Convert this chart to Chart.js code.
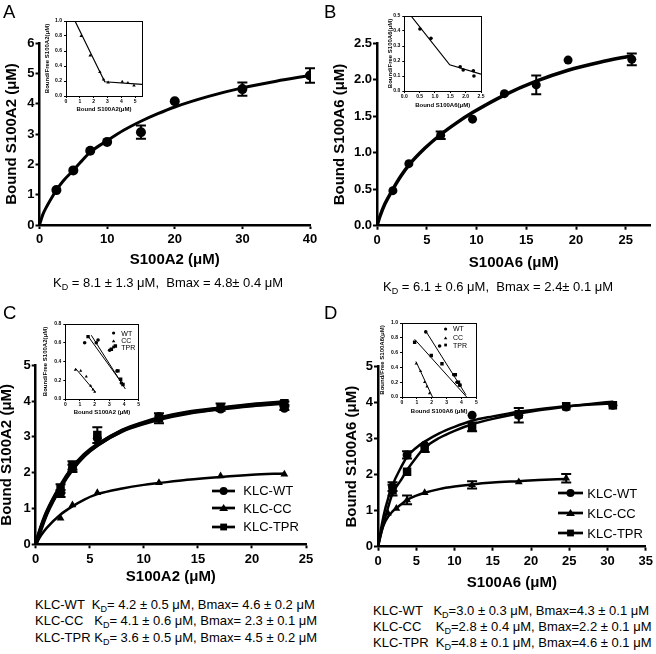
<!DOCTYPE html>
<html>
<head>
<meta charset="utf-8">
<script src="https://cdn.jsdelivr.net/npm/chart.js@4.4.1/dist/chart.umd.min.js"></script>
<style>
  body { margin: 0; background: #fff; }
  #fig { position: relative; width: 656px; height: 654px; overflow: hidden; background: #fff;
         font-family: Arial, "Liberation Sans", Helvetica, sans-serif; color: #000; }
  #fig canvas, #fig .abs { position: absolute; }
  .letter { font-size: 18.5px; line-height: 18.5px; }
  .res { font-size: 13px; white-space: pre; }
  .res sub { font-size: 9px; line-height: 0; vertical-align: -3px; }
</style>
</head>
<body>
<div id="fig">
  <canvas id="mainA"></canvas>
  <canvas id="mainB"></canvas>
  <canvas id="mainC"></canvas>
  <canvas id="mainD"></canvas>
  <canvas id="insA"></canvas>
  <canvas id="insB"></canvas>
  <canvas id="insC"></canvas>
  <canvas id="insD"></canvas>

  <div class="abs letter" style="left:3px;top:2.6px">A</div>
  <div class="abs letter" style="left:324px;top:2.6px">B</div>
  <div class="abs letter" style="left:3px;top:304.3px">C</div>
  <div class="abs letter" style="left:324px;top:304.3px">D</div>

  <div class="abs res" style="left:53px;top:275px;line-height:16px">K<sub>D</sub> = 8.1 ± 1.3 μM,  Bmax = 4.8± 0.4 μM</div>
  <div class="abs res" style="left:383px;top:279px;line-height:16px">K<sub>D</sub> = 6.1 ± 0.6 μM,  Bmax = 2.4± 0.1 μM</div>
  <div class="abs res" style="left:35px;top:596.6px;line-height:16.7px">KLC-WT  K<sub>D</sub>= 4.2 ± 0.5 μM, Bmax= 4.6 ± 0.2 μM
KLC-CC   K<sub>D</sub>= 4.1 ± 0.6 μM, Bmax= 2.3 ± 0.1 μM
KLC-TPR K<sub>D</sub>= 3.6 ± 0.5 μM, Bmax= 4.5 ± 0.2 μM</div>
  <div class="abs res" style="left:373px;top:603px;line-height:16.2px">KLC-WT   K<sub>D</sub>=3.0 ± 0.3 μM, Bmax=4.3 ± 0.1 μM
KLC-CC    K<sub>D</sub>=2.8 ± 0.4 μM, Bmax=2.2 ± 0.1 μM
KLC-TPR  K<sub>D</sub>=4.8 ± 0.1 μM, Bmax=4.6 ± 0.1 μM</div>
</div>

<script>
Chart.defaults.font.family = 'Arial, "Liberation Sans", sans-serif';
Chart.defaults.color = '#000';

// ---------- A: S100A2 ----------
const xA = [2.5, 5, 7.5, 10, 15, 20, 30, 40];
const yA = [1.15, 1.8, 2.45, 2.74, 3.06, 4.08, 4.48, 4.93];
const errA = [0, 0, 0, 0, 0.22, 0, 0.22, 0.24];
const fitXA = [0, 0.5, 1, 2, 2.5, 3.5, 5, 6, 7.5, 10, 12.5, 15, 17.5, 20, 25, 30, 35, 40];
const fitYA = [0, 0.35, 0.58, 0.97, 1.15, 1.45, 1.8, 2.05, 2.4, 2.78, 3.13, 3.42, 3.67, 3.89, 4.24, 4.52, 4.74, 4.93];
const xTicksA = [0, 10, 20, 30, 40];
const yTicksA = [0, 1, 2, 3, 4, 5, 6];
// A inset (Scatchard)
const insXA = [1.1, 1.75, 2.45, 2.72, 3.05, 4.07, 4.48, 4.92];
const insYA = [0.8, 0.54, 0.32, 0.22, 0.18, 0.19, 0.175, 0.14];
const insLineXA = [0.65, 2.8, 5.5];
const insLineYA = [1.0, 0.19, 0.155];
const insXTicksA = [0, 1, 2, 3, 4, 5];
const insYTicksA = [0, 0.2, 0.4, 0.6, 0.8, 1.0];

// ---------- B: S100A6 ----------
const xB = [1.6, 3.2, 6.4, 9.6, 12.8, 16, 19.2, 25.6];
const yB = [0.48, 0.85, 1.24, 1.46, 1.81, 1.93, 2.27, 2.28];
const errB = [0, 0, 0.05, 0, 0, 0.13, 0, 0.08];
const fitXB = [0, 0.3, 0.8, 1.6, 2.4, 3.2, 4.8, 6.4, 8, 9.6, 12.8, 16, 19.2, 22.4, 25.6];
const fitYB = [0, 0.13, 0.3, 0.5, 0.68, 0.83, 1.06, 1.25, 1.41, 1.55, 1.79, 1.98, 2.13, 2.24, 2.33];
const xTicksB = [0, 5, 10, 15, 20, 25];
const yTicksB = [0, 0.5, 1, 1.5, 2, 2.5];
const insXB = [0.51, 0.87, 1.82, 1.92, 2.25, 2.27];
const insYB = [0.413, 0.351, 0.162, 0.14, 0.135, 0.1];
const insLineXB = [0.22, 1.48, 2.5];
const insLineYB = [0.5, 0.175, 0.113];
const insXTicksB = [0, 0.5, 1, 1.5, 2, 2.5];
const insYTicksB = [0, 0.1, 0.2, 0.3, 0.4, 0.5];

// ---------- C: S100A2 with KLC constructs ----------
const xC = [2.3, 3.4, 5.7, 11.4, 17.1, 23];
const wtC = [1.42, 2.12, 2.96, 3.57, 3.78, 3.8];
const ccC = [0.73, 1.1, 1.44, 1.72, 1.91, 1.96];
const tprC = [1.56, 2.2, 3.05, 3.52, 3.83, 3.94];
const errWtC = [0.1, 0.1, 0, 0, 0, 0.05];
const errTprC = [0.12, 0.12, 0.22, 0.14, 0.1, 0.05];
const fitXC = [0, 0.5, 1, 2.3, 3.4, 4.5, 5.7, 8, 10, 11.4, 14, 17.1, 20, 23];
const fitWtC = [0, 0.45, 0.85, 1.6, 2.1, 2.48, 2.77, 3.18, 3.4, 3.52, 3.68, 3.8, 3.9, 3.97];
const fitTprC = [0, 0.48, 0.88, 1.63, 2.13, 2.5, 2.78, 3.17, 3.38, 3.5, 3.66, 3.79, 3.88, 3.95];
const fitCcC = [0, 0.25, 0.45, 0.83, 1.06, 1.25, 1.4, 1.56, 1.66, 1.71, 1.8, 1.88, 1.94, 1.98];
const xTicksC = [0, 5, 10, 15, 20, 25];
const yTicksC = [0, 1, 2, 3, 4, 5];
const insWtXC = [1.32, 2.11, 2.23, 3.02, 3.52, 3.82];
const insWtYC = [0.6, 0.6, 0.63, 0.52, 0.3, 0.17];
const insTprXC = [1.55, 3.14, 3.41, 3.59, 3.77, 3.93];
const insTprYC = [0.665, 0.53, 0.565, 0.3, 0.21, 0.155];
const insCcXC = [0.68, 1.05, 1.43, 1.73, 1.89, 2.0];
const insCcYC = [0.31, 0.3, 0.24, 0.14, 0.1, 0.075];
const insLineWtC = { x: [1.55, 3.93], y: [0.67, 0.153] };
const insLineTprC = { x: [1.77, 4.09], y: [0.68, 0.107] };
const insLineCcC = { x: [0.68, 2.05], y: [0.33, 0.075] };
const insXTicksC = [0, 1, 2, 3, 4, 5];
const insYTicksC = [0, 0.2, 0.4, 0.6, 0.8];

// ---------- D: S100A6 with KLC constructs ----------
const xD = [1.9, 3.8, 6.1, 12.3, 18.4, 24.6, 30.7];
const wtD = [1.67, 2.55, 2.82, 3.65, 3.65, 3.88, 3.93];
const tprD = [1.57, 2.08, 2.73, 3.33, 3.68, 3.9, 3.93];
const errWtD = [0.12, 0.1, 0, 0, 0.2, 0, 0];
const errTprD = [0.15, 0, 0.1, 0.12, 0, 0, 0];
const xCcD = [1.3, 2.4, 3.8, 6.1, 12.3, 18.4, 24.6];
const ccD = [0.93, 1.06, 1.3, 1.5, 1.72, 1.8, 1.9];
const errCcD = [0, 0, 0.12, 0, 0.1, 0, 0.12];
const fitXD = [0, 0.5, 1, 1.9, 3, 3.8, 5, 6.1, 8, 10, 12.3, 15, 18.4, 21, 24.6, 28, 30.7];
const fitWtD = [0, 0.62, 1.1, 1.71, 2.2, 2.5, 2.75, 2.92, 3.15, 3.33, 3.5, 3.62, 3.75, 3.82, 3.9, 3.95, 3.98];
const fitTprD = [0, 0.45, 0.85, 1.48, 1.85, 2.13, 2.48, 2.75, 3.02, 3.22, 3.4, 3.55, 3.7, 3.79, 3.89, 3.97, 4.03];
const fitXCcD = [0, 0.5, 1, 1.9, 3, 3.8, 5, 6.1, 8, 10, 12.3, 15, 18.4, 21, 24.6];
const fitCcD = [0, 0.45, 0.72, 0.98, 1.17, 1.3, 1.42, 1.5, 1.6, 1.67, 1.73, 1.78, 1.82, 1.85, 1.88];
const xTicksD = [0, 5, 10, 15, 20, 25, 30, 35];
const yTicksD = [0, 1, 2, 3, 4, 5];
const insWtXD = [1.6, 2.53, 3.48, 3.7, 3.88];
const insWtYD = [0.88, 0.69, 0.3, 0.2, 0.16];
const insTprXD = [0.85, 1.97, 2.69, 3.59, 3.8, 3.9];
const insTprYD = [0.74, 0.56, 0.45, 0.3, 0.2, 0.16];
const insCcXD = [0.95, 1.25, 1.52, 1.68, 1.85];
const insCcYD = [0.45, 0.35, 0.2, 0.14, 0.05];
const insLineWtD = { x: [1.57, 4.3], y: [0.9, 0.03] };
const insLineTprD = { x: [0.85, 4.35], y: [0.78, 0.0] };
const insLineCcD = { x: [0.94, 2.05], y: [0.48, 0.0] };
const insXTicksD = [0, 1, 2, 3, 4, 5];
const insYTicksD = [0, 0.2, 0.4, 0.6, 0.8, 1.0];

// ---------- helpers ----------
const MAIN = { tick: 13, title: 15, tickLen: 4, tickW: 2, border: 2.5, padX: 3, padY: 1 };
const INSET = { tick: 5, title: 6, tickLen: 2, tickW: 1, border: 1, padX: 1, padY: 2 };

function pts(xs, ys) { return xs.map((x, i) => ({ x, y: ys[i] })); }

function markers(xs, ys, style, r, errs) {
    return { data: pts(xs, ys), pointStyle: style, pointRadius: r, backgroundColor: '#000',
             borderColor: '#000', borderWidth: 0, showLine: false, errors: errs };
}

function curve(xs, ys, w, smooth) {
    return { type: 'line', data: pts(xs, ys), borderColor: '#000', borderWidth: w, pointRadius: 0,
             fill: false, cubicInterpolationMode: smooth ? 'monotone' : 'default', tension: 0 };
}

// vertical error bars with caps, from dataset.errors
const errorBars = {
    id: 'errorBars',
    afterDatasetsDraw(chart) {
        const { ctx, scales: { x, y } } = chart;
        ctx.save();
        ctx.strokeStyle = '#000';
        ctx.lineWidth = 2;
        chart.data.datasets.forEach(ds => {
            if (!ds.errors) return;
            ds.data.forEach((p, i) => {
                const e = ds.errors[i];
                if (!e) return;
                const px = x.getPixelForValue(p.x);
                const top = y.getPixelForValue(p.y + e);
                const bot = y.getPixelForValue(p.y - e);
                ctx.beginPath();
                ctx.moveTo(px, top); ctx.lineTo(px, bot);
                ctx.moveTo(px - 5, top); ctx.lineTo(px + 5, top);
                ctx.moveTo(px - 5, bot); ctx.lineTo(px + 5, bot);
                ctx.stroke();
            });
        });
        ctx.restore();
    }
};

// closed box round the inset plots
const frame = {
    id: 'frame',
    afterDraw(chart) {
        const a = chart.chartArea;
        const ctx = chart.ctx;
        ctx.save();
        ctx.strokeStyle = '#000';
        ctx.lineWidth = 1;
        ctx.strokeRect(Math.round(a.left) + 0.5, Math.round(a.top) + 0.5,
                       Math.round(a.right - a.left), Math.round(a.bottom - a.top));
        ctx.restore();
    }
};

function axis(pos, min, max, ticks, digits, title, size, titlePad, st) {
    const horiz = pos === 'bottom';
    return {
        type: 'linear', position: pos, min, max,
        afterBuildTicks: s => { s.ticks = ticks.map(v => ({ value: v })); },
        afterFit: s => { if (horiz) s.height = size; else s.width = size; },
        grid: { drawOnChartArea: false, drawTicks: true, tickLength: st.tickLen,
                tickWidth: st.tickW, tickColor: '#000' },
        border: { display: true, color: '#000', width: st.border },
        ticks: { color: '#000', autoSkip: false, maxRotation: 0,
                 padding: horiz ? st.padX : st.padY,
                 font: { size: st.tick, weight: 'bold' },
                 callback: v => v.toFixed(digits) },
        title: { display: true, text: title, color: '#000',
                 font: { size: st.title, weight: 'bold' },
                 padding: horiz ? { top: 0, bottom: titlePad } : { top: titlePad, bottom: 0 } }
    };
}

function draw(id, box, xs, ys, datasets, st, extra) {
    const cv = document.getElementById(id);
    cv.width = box.w;
    cv.height = box.h;
    Object.assign(cv.style, { left: box.l + 'px', top: box.t + 'px',
                              width: box.w + 'px', height: box.h + 'px' });
    return new Chart(cv, {
        type: 'scatter',
        data: { datasets },
        options: {
            responsive: false,
            animation: false,
            layout: { padding: { top: box.pt, right: box.pr, left: 0, bottom: 0 } },
            plugins: { legend: { display: false }, tooltip: { enabled: false } },
            scales: {
                x: axis('bottom', xs.min, xs.max, xs.ticks, xs.digits, xs.title, box.xh, box.xtp, st),
                y: axis('left', ys.min, ys.max, ys.ticks, ys.digits, ys.title, box.yw, box.ytp, st)
            }
        },
        plugins: extra
    });
}

// legend rows: line + marker drawn as svg, label as text
function legend(rows, names, shapes, o) {
    const fig = document.getElementById('fig');
    rows.forEach((cy, i) => {
        const r = o.r;
        const w = o.lineW || (2 * r + 2);
        const mx = w / 2;
        let mark = '';
        if (shapes[i] === 'circle') mark = `<circle cx="${mx}" cy="8" r="${r}"/>`;
        if (shapes[i] === 'triangle') mark = `<polygon points="${mx - r * 1.1},${8 + r * 0.75} ${mx + r * 1.1},${8 + r * 0.75} ${mx},${8 - r}"/>`;
        if (shapes[i] === 'rect') mark = `<rect x="${mx - r * 0.85}" y="${8 - r * 0.85}" width="${r * 1.7}" height="${r * 1.7}"/>`;
        const line = o.lineW ? `<line x1="0" y1="8" x2="${w}" y2="8" stroke="#000" stroke-width="${o.stroke}"/>` : '';
        const svg = document.createElementNS('http://www.w3.org/2000/svg', 'svg');
        svg.setAttribute('width', w);
        svg.setAttribute('height', 16);
        svg.setAttribute('class', 'abs');
        svg.style.left = o.x + 'px';
        svg.style.top = (cy - 8) + 'px';
        svg.innerHTML = line + mark;
        fig.appendChild(svg);
        const t = document.createElement('div');
        t.className = 'abs';
        t.textContent = names[i];
        Object.assign(t.style, { left: o.tx + 'px', top: (cy - 0.49 * o.size) + 'px',
                                 fontSize: o.size + 'px', lineHeight: o.size + 'px', whiteSpace: 'nowrap' });
        fig.appendChild(t);
    });
}

// ---------- main panels ----------
draw('mainA', { l: 0, t: 30, w: 328, h: 243, pt: 13, pr: 18, yw: 39.5, xh: 48, ytp: 2.5, xtp: 4 },
    { min: 0, max: 40, ticks: xTicksA, digits: 0, title: 'S100A2 (μM)' },
    { min: 0, max: 6, ticks: yTicksA, digits: 0, title: 'Bound S100A2 (μM)' },
    [curve(fitXA, fitYA, 3, true), markers(xA, yA, 'circle', 5, errA)], MAIN, [errorBars]);

draw('mainB', { l: 328, t: 30, w: 328, h: 246, pt: 13.3, pr: 5.3, yw: 49, xh: 50.3, ytp: 2.5, xtp: 3.7 },
    { min: 0, max: 27.5, ticks: xTicksB, digits: 0, title: 'S100A6 (μM)' },
    { min: 0, max: 2.5, ticks: yTicksB, digits: 1, title: 'Bound S100A6 (μM)' },
    [curve(fitXB, fitYB, 3.5, true), markers(xB, yB, 'circle', 4.5, errB)], MAIN, [errorBars]);

draw('mainC', { l: -3, t: 350, w: 331, h: 240, pt: 15.3, pr: 22, yw: 38.7, xh: 45.7, ytp: 0.5, xtp: 4.3 },
    { min: 0, max: 25, ticks: xTicksC, digits: 0, title: 'S100A2 (μM)' },
    { min: 0, max: 5, ticks: yTicksC, digits: 0, title: 'Bound S100A2 (μM)' },
    [curve(fitXC, fitWtC, 4, true), curve(fitXC, fitTprC, 4, true), curve(fitXC, fitCcC, 2.5, true),
     markers(xC, wtC, 'circle', 4.5, errWtC), markers(xC, ccC, 'triangle', 4.5, null),
     markers(xC, tprC, 'rect', 6, errTprC)], MAIN, [errorBars]);

draw('mainD', { l: 328, t: 350, w: 328, h: 246, pt: 16.7, pr: 8, yw: 50, xh: 49.3, ytp: 15, xtp: 3.7 },
    { min: 0, max: 35, ticks: xTicksD, digits: 0, title: 'S100A6 (μM)' },
    { min: 0, max: 5, ticks: yTicksD, digits: 0, title: 'Bound S100A6 (μM)' },
    [curve(fitXD, fitWtD, 2.5, true), curve(fitXD, fitTprD, 2.5, true), curve(fitXCcD, fitCcD, 2.5, true),
     markers(xD, wtD, 'circle', 4.5, errWtD), markers(xCcD, ccD, 'triangle', 4.5, errCcD),
     markers(xD, tprD, 'rect', 6, errTprD)], MAIN, [errorBars]);

// ---------- insets ----------
draw('insA', { l: 38, t: 12, w: 110, h: 104, pt: 9, pr: 6, yw: 28, xh: 20, ytp: 5.4, xtp: 3.4 },
    { min: 0, max: 5.5, ticks: insXTicksA, digits: 0, title: 'Bound S100A2(μM)' },
    { min: 0, max: 1, ticks: insYTicksA, digits: 1, title: 'Bound/Free S100A2(μM)' },
    [curve(insLineXA, insLineYA, 1.2, false), markers(insXA, insYA, 'triangle', 2, null)], INSET, [frame]);

draw('insB', { l: 382, t: 6, w: 104, h: 104, pt: 10, pr: 5, yw: 22.3, xh: 19, ytp: 4.4, xtp: 1.4 },
    { min: 0, max: 2.5, ticks: insXTicksB, digits: 1, title: 'Bound S100A6(μM)' },
    { min: 0, max: 0.5, ticks: insYTicksB, digits: 1, title: 'Bound/Free S100A6(μM)' },
    [curve(insLineXB, insLineYB, 1.2, false), markers(insXB, insYB, 'circle', 1.8, null)], INSET, [frame]);

draw('insC', { l: 38, t: 316, w: 106, h: 102, pt: 8, pr: 5.3, yw: 27.3, xh: 19, ytp: 3.7, xtp: 2.1 },
    { min: 0, max: 5, ticks: insXTicksC, digits: 0, title: 'Bound S100A2 (μM)' },
    { min: 0, max: 0.8, ticks: insYTicksC, digits: 1, title: 'Bound/Free S100A2(μM)' },
    [curve(insLineWtC.x, insLineWtC.y, 1, false), curve(insLineTprC.x, insLineTprC.y, 1, false),
     curve(insLineCcC.x, insLineCcC.y, 1, false),
     markers(insWtXC, insWtYC, 'circle', 1.8, null), markers(insTprXC, insTprYC, 'rect', 2.4, null),
     markers(insCcXC, insCcYC, 'triangle', 1.8, null)], INSET, [frame]);

draw('insD', { l: 376, t: 315, w: 106, h: 102, pt: 8, pr: 5.7, yw: 26, xh: 20, ytp: 3.1, xtp: 2.4 },
    { min: 0, max: 5, ticks: insXTicksD, digits: 0, title: 'Bound S100A6 (μM)' },
    { min: 0, max: 1, ticks: insYTicksD, digits: 1, title: 'Bound/Free S100A6(μM)' },
    [curve(insLineWtD.x, insLineWtD.y, 1, false), curve(insLineTprD.x, insLineTprD.y, 1, false),
     curve(insLineCcD.x, insLineCcD.y, 1, false),
     markers(insWtXD, insWtYD, 'circle', 1.8, null), markers(insTprXD, insTprYD, 'rect', 2.4, null),
     markers(insCcXD, insCcYD, 'triangle', 1.8, null)], INSET, [frame]);

// ---------- legends ----------
const legNames = ['KLC-WT', 'KLC-CC', 'KLC-TPR'];
const legShapes = ['circle', 'triangle', 'rect'];
legend([490.7, 508.3, 526.7], legNames, legShapes, { x: 211.7, lineW: 23.3, stroke: 2.7, r: 4, tx: 243.3, size: 13 });
legend([493.3, 513.3, 533.3], legNames, legShapes, { x: 558, lineW: 25, stroke: 2.7, r: 4, tx: 587.3, size: 13 });
legend([333, 340.7, 347.3], ['WT', 'CC', 'TPR'], legShapes, { x: 111, r: 1.6, tx: 121.3, size: 7 });
legend([328.7, 337.7, 345.3], ['WT', 'CC', 'TPR'], legShapes, { x: 443, r: 1.6, tx: 453, size: 7 });
</script>
</body>
</html>
